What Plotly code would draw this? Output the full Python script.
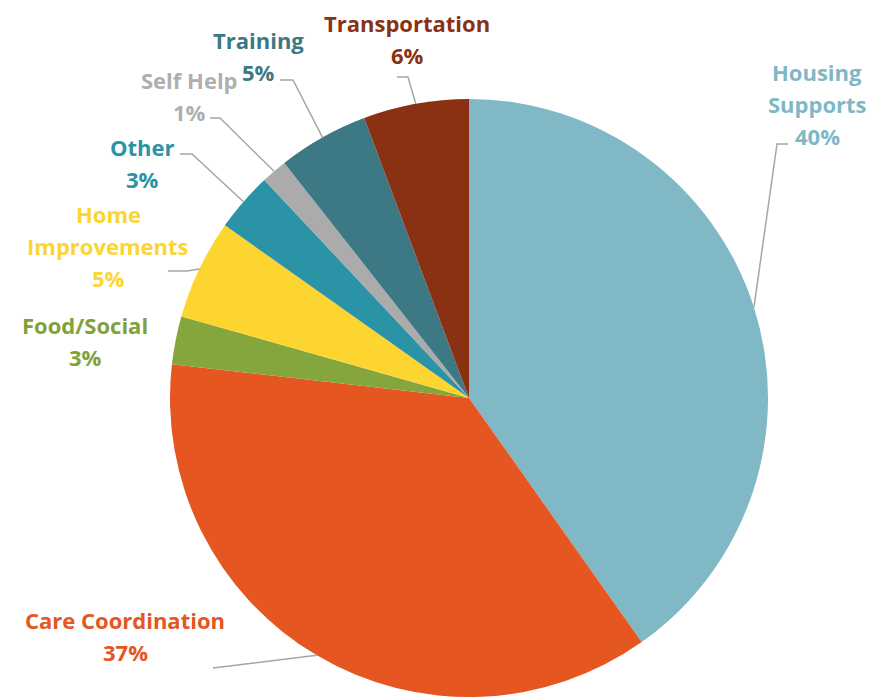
import math
import plotly.graph_objects as go

# ---- data ----
categories = ["Housing Supports", "Care Coordination", "Food/Social", "Home Improvements",
              "Other", "Self Help", "Training", "Transportation"]
values = [40.2, 36.6, 2.6, 5.4, 3.2, 1.4, 4.9, 5.7]
label_lines = [["Housing", "Supports"], ["Care Coordination"], ["Food/Social"],
               ["Home", "Improvements"], ["Other"], ["Self Help"], ["Training"], ["Transportation"]]

# ---- styles / layout ----
colors = ["#80B9C5", "#E55620", "#84A63C", "#FCD531", "#2A93A6", "#ABABAB", "#3D7985", "#8B3113"]
text_colors = ["#7FB8C4", "#E55620", "#7FA23A", "#FCD531", "#2A93A6", "#AFAFAF", "#3D7985", "#8B3113"]
W, H = 874, 698
OFF = 8  # page body margin in the browser
CX, CY, R = 469, 398, 299
# label block centres (px, screen) and leader elbow/end points (px, screen)
label_pos = [(817, 104), (125, 636), (85, 341), (108, 246), (142, 163), (189, 96), (258, 56), (407, 39)]
leader = [[(777, 144), (788, 144)], [(213, 668)], None, [(187, 271), (168, 271)],
          [(192, 154), (180, 154)], [(220, 118), (210, 118)], [(293, 80), (280, 80)],
          [(408, 77), (397, 77)]]
LINE_H = 32
FONT = "'Open Sans', sans-serif"
FONT_SIZE = 22


def px(x):
    return (x - OFF) / W


def py(y):
    return 1 - (y - OFF) / H


fig = go.Figure(go.Pie(
    labels=categories, values=values, sort=False, direction="clockwise", rotation=0,
    marker=dict(colors=colors, line=dict(width=0)), textinfo="none", hoverinfo="label+percent",
    domain=dict(x=[px(CX - R), px(CX + R)], y=[py(CY + R), py(CY - R)]),
    showlegend=False,
))

total = sum(values)
cum = 0
shapes = []
annotations = []
for i, v in enumerate(values):
    mid = (cum + v / 2) / total * 2 * math.pi
    cum += v
    ax_ = CX + R * math.sin(mid)
    ay_ = CY - R * math.cos(mid)
    if leader[i]:
        pts = [(ax_, ay_)] + leader[i]
        path = "M " + " L ".join(f"{px(x):.5f},{py(y):.5f}" for x, y in pts)
        shapes.append(dict(type="path", xref="paper", yref="paper", path=path,
                           line=dict(color="#A6A6A6", width=1.5)))
    lines = label_lines[i] + [f"{round(v / total * 100)}%"]
    lx, ly = label_pos[i]
    n = len(lines)
    for k, t in enumerate(lines):
        yy = ly + (k - (n - 1) / 2) * LINE_H
        annotations.append(dict(x=px(lx), y=py(yy), xref="paper", yref="paper", text=f"<b>{t}</b>",
                                showarrow=False, xanchor="center", yanchor="middle", borderpad=0,
                                font=dict(family=FONT, size=FONT_SIZE, color=text_colors[i])))

fig.update_layout(width=W, height=H, margin=dict(l=0, r=0, t=0, b=0),
                  paper_bgcolor="white", plot_bgcolor="white",
                  shapes=shapes, annotations=annotations)
fig.write_html("out.html")
